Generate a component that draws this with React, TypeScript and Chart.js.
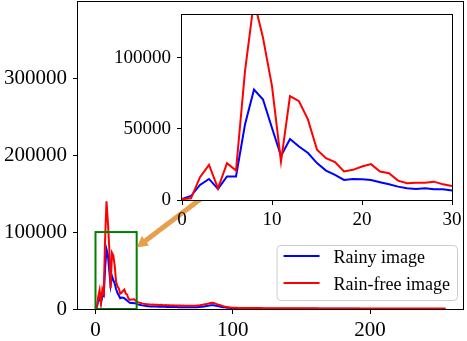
import React, { useEffect, useRef } from "react";
import { Chart, registerables } from "chart.js";

Chart.register(...registerables);

const FONT = "'Liberation Serif', 'Times New Roman', serif";

// Histogram counts for pixel intensities 0..255
const RAINY = [
  700, 2800, 10600, 14800, 7800, 16500, 16500, 53000, 77600, 70600,
  50600, 31000, 42800, 37600, 33000, 25900, 20700, 17600, 14100, 14800,
  14600, 14100, 12500, 11000, 9400, 8200, 7800, 8200, 7500, 7500,
  6600, 6000, 5500, 5100, 4700, 4400, 4100, 3900, 3700, 3500,
  3400, 3300, 3300, 3200, 3100, 3100, 3000, 3000, 2900, 2900,
  2800, 2800, 2700, 2700, 2700, 2600, 2600, 2500, 2500, 2500,
  2400, 2400, 2400, 2300, 2300, 2300, 2200, 2200, 2200, 2300,
  2300, 2200, 2300, 2400, 2400, 2500, 2600, 2800, 3000, 3300,
  3600, 3900, 4200, 4500, 4800, 5000, 4900, 4600, 4200, 3800,
  3400, 3000, 2700, 2400, 2100, 1900, 1700, 1500, 1300, 1200,
  1100, 1000, 950, 900, 860, 820, 780, 750, 720, 700,
  680, 650, 630, 610, 600, 580, 560, 550, 530, 520,
  500, 490, 480, 470, 455, 445, 440, 430, 420, 410,
  400, 395, 385, 380, 370, 365, 360, 350, 345, 340,
  335, 330, 320, 318, 312, 305, 300, 296, 290, 288,
  282, 280, 275, 270, 268, 262, 260, 255, 252, 250,
  246, 243, 240, 236, 233, 230, 228, 224, 222, 218,
  216, 213, 210, 208, 205, 203, 200, 198, 195, 193,
  190, 188, 186, 183, 181, 179, 177, 175, 172, 170,
  168, 166, 164, 162, 160, 158, 156, 154, 152, 150,
  148, 146, 144, 142, 141, 139, 137, 135, 133, 131,
  129, 128, 126, 124, 122, 120, 119, 117, 115, 113,
  111, 110, 108, 106, 104, 102, 100, 98, 96, 94,
  92, 90, 88, 86, 84, 82, 80, 78, 76, 74,
  72, 70, 68, 66, 64, 62, 60, 58, 56, 54,
  52, 50, 48, 46, 44, 42,
];

const RAIN_FREE = [
  500, 1200, 16000, 24700, 8200, 25900, 20700, 90600, 140000, 114000,
  80000, 27000, 73000, 69400, 56500, 35300, 29400, 26600, 20000, 21200,
  23500, 25200, 20000, 18800, 13600, 11800, 12200, 12200, 12900, 11000,
  9800, 9000, 8300, 7800, 7300, 6900, 6600, 6300, 6100, 5900,
  5800, 5600, 5700, 5500, 5400, 5500, 5300, 5200, 5400, 5100,
  5000, 5200, 4900, 4800, 5000, 4700, 4800, 4600, 4700, 4500,
  4600, 4400, 4500, 4300, 4400, 4200, 4300, 4100, 4200, 4200,
  4100, 4200, 4300, 4200, 4400, 4600, 4800, 5100, 5400, 5800,
  6200, 6600, 7000, 7400, 7800, 8200, 7900, 7300, 6600, 6000,
  5400, 4800, 4200, 3700, 3200, 2800, 2500, 2200, 2000, 1800,
  1700, 1600, 1550, 1500, 1450, 1420, 1400, 1380, 1360, 1340,
  1320, 1300, 1280, 1260, 1240, 1220, 1210, 1190, 1180, 1160,
  1150, 1140, 1120, 1110, 1100, 1080, 1070, 1060, 1050, 1040,
  1030, 1020, 1010, 1000, 990, 985, 975, 965, 960, 950,
  945, 935, 930, 920, 915, 910, 900, 895, 890, 880,
  875, 870, 865, 860, 855, 850, 845, 840, 835, 830,
  825, 820, 815, 812, 808, 804, 800, 796, 792, 788,
  784, 780, 776, 772, 768, 765, 762, 758, 755, 752,
  748, 745, 742, 738, 735, 732, 728, 725, 722, 718,
  715, 712, 708, 705, 702, 698, 695, 692, 688, 685,
  682, 678, 675, 672, 668, 665, 662, 658, 655, 652,
  648, 645, 642, 638, 635, 632, 628, 625, 622, 618,
  615, 612, 608, 605, 602, 598, 595, 592, 588, 585,
  582, 578, 575, 572, 568, 565, 562, 558, 555, 552,
  548, 545, 542, 538, 535, 532, 528, 525, 522, 518,
  515, 512, 508, 505, 502, 500,
];

const SERIES_LABELS = ["Rainy image", "Rain-free image"];
const SERIES_COLORS = ["#0000ff", "#ff0000"];

const MAIN_X_TICKS = [0, 100, 200];
const MAIN_Y_TICKS = [0, 100000, 200000, 300000];
const INSET_X_TICKS = [0, 10, 20, 30];
const INSET_Y_TICKS = [0, 50000, 100000];

const MAIN_X_RANGE = [-12.75, 267.75];
const MAIN_Y_RANGE = [0, 399000];
const INSET_X_RANGE = [0, 30];
const INSET_Y_RANGE = [0, 130000];

const ZOOM_BOX_X = [0, 30];
const ZOOM_BOX_Y = [0, 100000];
const ARROW_FROM = [78, 145000];
const ARROW_TO = [30, 80000];

function makeDatasets() {
  const series = [RAINY, RAIN_FREE];
  return series.map((vals, i) => ({
    label: SERIES_LABELS[i],
    data: vals.map((v, x) => ({ x, y: v })),
    borderColor: SERIES_COLORS[i],
    backgroundColor: SERIES_COLORS[i],
    borderWidth: 2,
    pointRadius: 0,
    tension: 0,
    fill: false,
    clip: 0,
    order: series.length - i,
  }));
}

function makeAxis(range: number[], ticks: number[], fontSize: number, fitKey: string, fitSize: number, pad: number) {
  return {
    type: "linear",
    min: range[0],
    max: range[1],
    afterBuildTicks: (s: any) => {
      s.ticks = ticks.map((v) => ({ value: v }));
    },
    afterFit: (s: any) => {
      s[fitKey] = fitSize;
      s.paddingTop = 0;
      s.paddingBottom = 0;
      s.paddingLeft = 0;
      s.paddingRight = 0;
    },
    grid: {
      display: true,
      drawOnChartArea: false,
      drawTicks: true,
      tickLength: 5,
      color: "#000",
      lineWidth: 1,
    },
    border: { display: false },
    ticks: {
      color: "#000",
      font: { family: FONT, size: fontSize },
      padding: pad,
      maxRotation: 0,
      autoSkip: false,
      callback: (v: any) => String(v),
    },
  };
}

const framePlugin = {
  id: "frame",
  afterDraw(chart: any) {
    const { ctx, chartArea } = chart;
    ctx.save();
    ctx.strokeStyle = "#000";
    ctx.lineWidth = 1;
    ctx.strokeRect(
      Math.round(chartArea.left) - 0.5,
      Math.round(chartArea.top) - 0.5,
      Math.round(chartArea.right - chartArea.left) + 1,
      Math.round(chartArea.bottom - chartArea.top) + 1
    );
    ctx.restore();
  },
};

const whiteAreaPlugin = {
  id: "whiteArea",
  beforeDatasetsDraw(chart: any) {
    const { ctx, chartArea } = chart;
    ctx.save();
    ctx.fillStyle = "#ffffff";
    ctx.fillRect(chartArea.left, chartArea.top, chartArea.right - chartArea.left, chartArea.bottom - chartArea.top);
    ctx.restore();
  },
};

const overlayPlugin = {
  id: "overlay",
  afterDatasetsDraw(chart: any) {
    const { ctx, scales } = chart;
    const xs = scales.x;
    const ys = scales.y;
    ctx.save();
    // zoom box
    const bx0 = xs.getPixelForValue(ZOOM_BOX_X[0]);
    const bx1 = xs.getPixelForValue(ZOOM_BOX_X[1]);
    const by0 = ys.getPixelForValue(ZOOM_BOX_Y[0]);
    const by1 = ys.getPixelForValue(ZOOM_BOX_Y[1]);
    ctx.strokeStyle = "#008000";
    ctx.lineWidth = 2;
    ctx.strokeRect(bx0, by1, bx1 - bx0, by0 - by1);

    // arrow
    const x1 = xs.getPixelForValue(ARROW_FROM[0]);
    const y1 = ys.getPixelForValue(ARROW_FROM[1]);
    const x2 = xs.getPixelForValue(ARROW_TO[0]);
    const y2 = ys.getPixelForValue(ARROW_TO[1]);
    const ang = Math.atan2(y2 - y1, x2 - x1);
    const headLen = 11;
    const headHalf = 6;
    const hx = x2 - headLen * Math.cos(ang);
    const hy = y2 - headLen * Math.sin(ang);
    ctx.fillStyle = "rgba(225,135,30,0.8)";
    const sw = 2.5;
    const px = -Math.sin(ang);
    const py = Math.cos(ang);
    ctx.beginPath();
    ctx.moveTo(x1 + px * sw, y1 + py * sw);
    ctx.lineTo(hx + px * sw, hy + py * sw);
    ctx.lineTo(hx + px * headHalf, hy + py * headHalf);
    ctx.lineTo(x2, y2);
    ctx.lineTo(hx - px * headHalf, hy - py * headHalf);
    ctx.lineTo(hx - px * sw, hy - py * sw);
    ctx.lineTo(x1 - px * sw, y1 - py * sw);
    ctx.closePath();
    ctx.fill();
    ctx.restore();
  },
  afterDraw(chart: any) {
    const { ctx, chartArea } = chart;
    const ds = chart.data.datasets;
    const fs = 18;
    ctx.save();
    ctx.font = `${fs}px ${FONT}`;
    const textW = Math.max(...ds.map((d: any) => ctx.measureText(d.label).width));
    const pad = 7;
    const handle = 36;
    const gap = 14;
    const w = pad + handle + gap + textW + pad;
    const h = 55;
    const right = chartArea.right - 6;
    const bottom = chartArea.bottom - 9;
    const left = right - w;
    const top = bottom - h;
    ctx.beginPath();
    ctx.roundRect(left + 0.5, top + 0.5, w, h, 4);
    ctx.fillStyle = "rgba(255,255,255,0.8)";
    ctx.fill();
    ctx.strokeStyle = "#cccccc";
    ctx.lineWidth = 1;
    ctx.stroke();
    ds.forEach((d: any, i: number) => {
      const base = top + 18 + i * 27;
      const ly = base - 7;
      ctx.strokeStyle = d.borderColor;
      ctx.lineWidth = 2;
      ctx.beginPath();
      ctx.moveTo(left + pad, ly);
      ctx.lineTo(left + pad + handle, ly);
      ctx.stroke();
      ctx.fillStyle = "#000";
      ctx.textBaseline = "alphabetic";
      ctx.textAlign = "left";
      ctx.fillText(d.label, left + pad + handle + gap, base);
    });
    ctx.restore();
  },
};

export default function App() {
  const mainRef = useRef<HTMLCanvasElement | null>(null);
  const insetRef = useRef<HTMLCanvasElement | null>(null);

  useEffect(() => {
    const main = new Chart(mainRef.current as HTMLCanvasElement, {
      type: "line",
      data: { datasets: makeDatasets() as any },
      options: {
        animation: false,
        responsive: false,
        devicePixelRatio: 1,
        layout: { padding: { top: 2, right: 4, left: 0, bottom: 0 } },
        plugins: { legend: { display: false }, tooltip: { enabled: false } },
        scales: {
          x: makeAxis(MAIN_X_RANGE, MAIN_X_TICKS, 21, "height", 32, 4) as any,
          y: makeAxis(MAIN_Y_RANGE, MAIN_Y_TICKS, 21, "width", 78, 6) as any,
        },
      },
      plugins: [overlayPlugin, framePlugin],
    });
    const inset = new Chart(insetRef.current as HTMLCanvasElement, {
      type: "line",
      data: { datasets: makeDatasets() as any },
      options: {
        animation: false,
        responsive: false,
        devicePixelRatio: 1,
        layout: { padding: { top: 15, right: 15, left: 0, bottom: 0 } },
        plugins: { legend: { display: false }, tooltip: { enabled: false } },
        scales: {
          x: makeAxis(INSET_X_RANGE, INSET_X_TICKS, 19, "height", 141, 4) as any,
          y: makeAxis(INSET_Y_RANGE, INSET_Y_TICKS, 19, "width", 182, 6) as any,
        },
      },
      plugins: [whiteAreaPlugin, framePlugin],
    });
    return () => {
      main.destroy();
      inset.destroy();
    };
  }, []);

  return (
    <div style={{ position: "fixed", left: 0, top: 0, width: 467, height: 341, background: "#ffffff" }}>
      <canvas ref={mainRef} width={467} height={341} style={{ position: "absolute", left: 0, top: 0 }} />
      <canvas ref={insetRef} width={467} height={341} style={{ position: "absolute", left: 0, top: 0 }} />
    </div>
  );
}
